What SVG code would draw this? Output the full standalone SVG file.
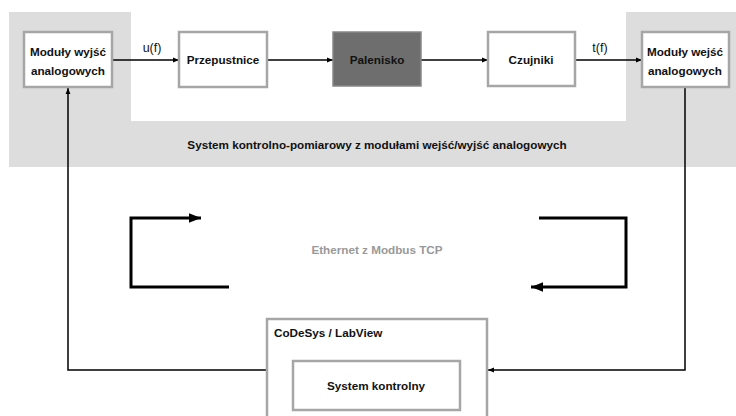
<svg xmlns="http://www.w3.org/2000/svg" width="736" height="416" viewBox="0 0 736 416">
<style>
.box{fill:#fff;stroke:#a6a6a6;stroke-width:2.5}
.t{font-family:"Liberation Sans",Arial,sans-serif;font-weight:bold;font-size:11.7px;fill:#111;text-anchor:middle}
.lbl{font-family:"Liberation Sans",Arial,sans-serif;font-size:12.5px;fill:#111;text-anchor:middle}
.ln{fill:none;stroke:#000;stroke-width:1.5}
.eth{fill:none;stroke:#000;stroke-width:3}
</style>
<defs>
<marker id="a" viewBox="0 0 10 10" refX="10" refY="5" markerWidth="6" markerHeight="6" markerUnits="userSpaceOnUse" orient="auto"><path d="M0,1L10,5L0,9z" fill="#000"/></marker>
<marker id="b" viewBox="0 0 10 10" refX="10" refY="5" markerWidth="4" markerHeight="4" orient="auto"><path d="M0,1L10,5L0,9z" fill="#000"/></marker>
</defs>
<rect width="736" height="416" fill="#fff"/>
<path id="bg" d="M9,12H131V121H626V12H736V167H9z" fill="#dddddd"/>
<text class="t" x="377" y="149">System kontrolno-pomiarowy z modułami wejść/wyjść analogowych</text>
<g id="connectors">
<path class="ln" d="M112,60H179" marker-end="url(#a)"/>
<path class="ln" d="M267,60H333" marker-end="url(#a)"/>
<path class="ln" d="M421,60H488" marker-end="url(#a)"/>
<path class="ln" d="M575,60H642" marker-end="url(#a)"/>
<path class="ln" d="M267,370H68V88" marker-end="url(#a)"/>
<path class="ln" d="M685,87V370H488" marker-end="url(#a)"/>
<path class="eth" d="M229,287H131V218H201" marker-end="url(#b)"/>
<path class="eth" d="M539,218H626V287H531" marker-end="url(#b)"/>
<text class="lbl" x="152" y="52">u(f)</text>
<text class="lbl" x="600" y="52">t(f)</text>
<text class="t" x="377" y="254" style="fill:#999">Ethernet z Modbus TCP</text>
</g>
<g id="out">
<rect class="box" x="24" y="32" width="88" height="55"/>
<text class="t" x="68" y="56">Moduły wyjść</text>
<text class="t" x="68" y="75">analogowych</text>
</g>
<g id="przep">
<rect class="box" x="179" y="32" width="88" height="55"/>
<text class="t" x="223" y="64">Przepustnice</text>
</g>
<g id="pal">
<rect x="333" y="32" width="88" height="54" fill="#6e6e6e" stroke="#888" stroke-width="1.5"/>
<text class="t" x="377" y="64">Palenisko</text>
</g>
<g id="czuj">
<rect class="box" x="488" y="32" width="87" height="54"/>
<text class="t" x="531" y="64">Czujniki</text>
</g>
<g id="in">
<rect class="box" x="642" y="32" width="87" height="55"/>
<text class="t" x="685" y="56">Moduły wejść</text>
<text class="t" x="685" y="75">analogowych</text>
</g>
<g id="codesys">
<rect class="box" x="267" y="319" width="220" height="110"/>
<text class="t" x="274" y="337" style="text-anchor:start">CoDeSys / LabView</text>
</g>
<g id="ctrl">
<rect class="box" x="293" y="361" width="167" height="49"/>
<text class="t" x="376" y="390">System kontrolny</text>
</g>
</svg>
